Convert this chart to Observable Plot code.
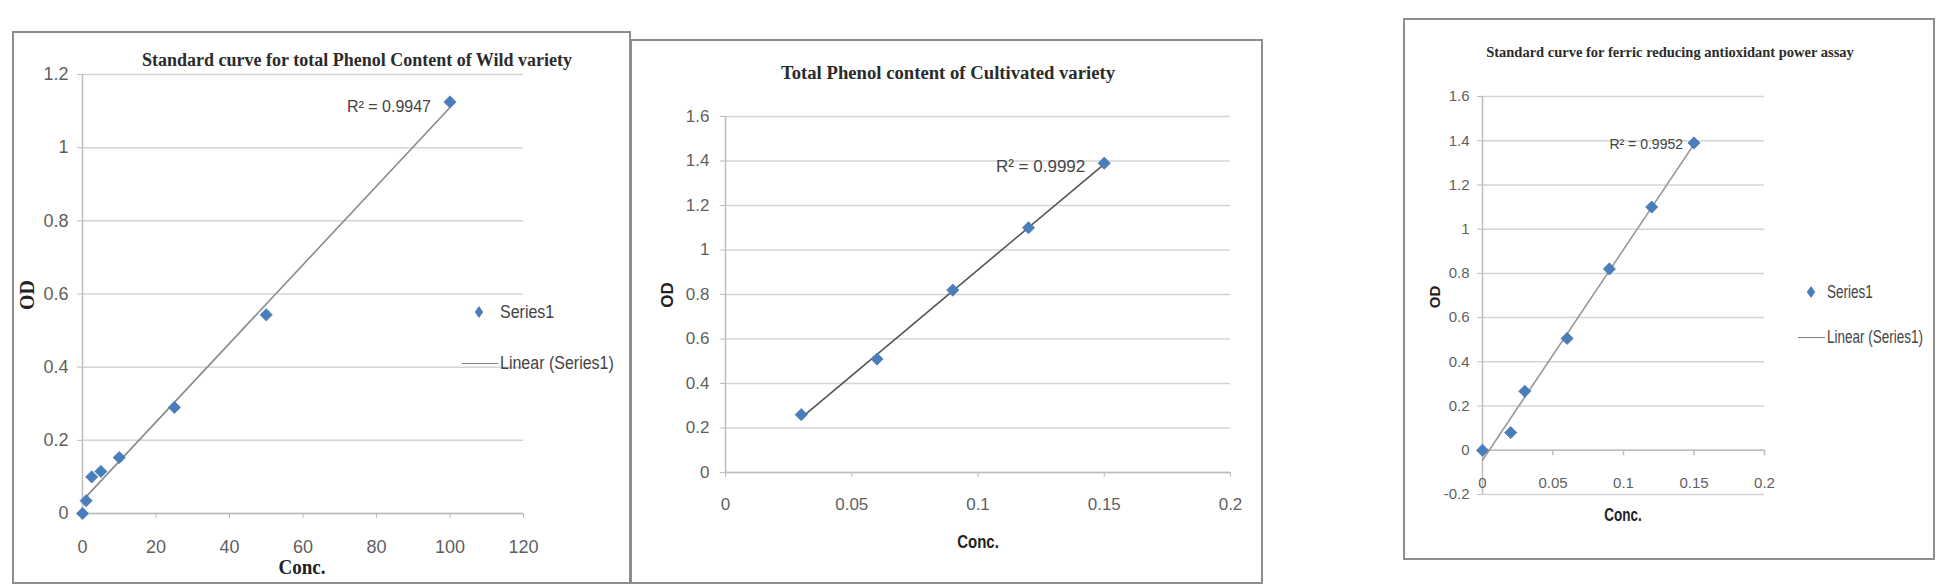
<!DOCTYPE html>
<html>
<head>
<meta charset="utf-8">
<script src="https://cdn.jsdelivr.net/npm/d3@7"></script>
<script src="https://cdn.jsdelivr.net/npm/@observablehq/plot@0.6"></script>
<style>
  body { margin: 0; background: #fff; }
  #root { position: relative; width: 1941px; height: 585px; overflow: hidden; background: #fff; }
  .frame { position: absolute; border: 2px solid #8e8e8e; box-sizing: border-box; }
  .plotbox { position: absolute; }
  .abs { position: absolute; white-space: nowrap; }
  .sans { font-family: "Liberation Sans", Arial, sans-serif; }
  .serif { font-family: "Liberation Serif", "Times New Roman", serif; }
  .diamond { position: absolute; width: 6px; height: 6px; background: #4a7ebb; transform: translate(-50%, -50%) scaleY(1.4) rotate(45deg); }
  .swline { position: absolute; height: 0; border-top: 1.5px solid #7f7f7f; }
</style>
</head>
<body>
<div id="root"></div>
<script>
// ---------- DATA ----------
// Panel 1: Standard curve for total Phenol Content of Wild variety
const conc1 = [0, 1, 2.5, 5, 10, 25, 50, 100];
const od1   = [0, 0.035, 0.10, 0.115, 0.153, 0.29, 0.543, 1.125];
const xTicks1 = [0, 20, 40, 60, 80, 100, 120];
const yTicks1 = [0, 0.2, 0.4, 0.6, 0.8, 1, 1.2];
const title1 = "Standard curve for total Phenol Content of Wild variety";
const r2Label1 = "R² = 0.9947";

// Panel 2: Total Phenol content of Cultivated variety
const conc2 = [0.03, 0.06, 0.09, 0.12, 0.15];
const od2   = [0.26, 0.51, 0.82, 1.10, 1.39];
const xTicks2 = [0, 0.05, 0.1, 0.15, 0.2];
const yTicks2 = [0, 0.2, 0.4, 0.6, 0.8, 1, 1.2, 1.4, 1.6];
const title2 = "Total Phenol content of Cultivated variety";
const r2Label2 = "R² = 0.9992";

// Panel 3: Standard curve for ferric reducing antioxidant power assay
const conc3 = [0, 0.02, 0.03, 0.06, 0.09, 0.12, 0.15];
const od3   = [0, 0.08, 0.267, 0.506, 0.82, 1.10, 1.39];
const xTicks3 = [0, 0.05, 0.1, 0.15, 0.2];
const yTicks3 = [-0.2, 0, 0.2, 0.4, 0.6, 0.8, 1, 1.2, 1.4, 1.6];
const title3 = "Standard curve for ferric reducing antioxidant power assay";
const r2Label3 = "R² = 0.9952";

const xLabel = "Conc.";
const yLabel = "OD";
const seriesName = "Series1";
const trendName = "Linear (Series1)";

// ---------- STYLE ----------
const BLUE = "#4a7ebb";
const GRID = "#d4d4d4";
const AXIS = "#bdbdbd";
const TICKTXT = "#5f5f5f";
const SANS = '"Liberation Sans", Arial, sans-serif';
const root = document.getElementById("root");

function el(cls, css, text) {
  const d = document.createElement("div");
  d.className = cls;
  Object.assign(d.style, css);
  if (text != null) d.textContent = text;
  root.appendChild(d);
  return d;
}

function panel(cfg) {
  const data = cfg.x.map((x, i) => ({x, y: cfg.y[i]}));
  const last = [data[data.length - 1]];
  const marks = [
    Plot.gridY(cfg.yTicks, {stroke: GRID, strokeOpacity: 1, strokeWidth: 1.5}),
    Plot.ruleX([cfg.xDomain[0]], {stroke: AXIS, strokeWidth: 1.5}),
    Plot.ruleY([0], {stroke: AXIS, strokeWidth: 1.5}),
    Plot.axisY(cfg.yTicks, {
      tickSize: 5, tickPadding: cfg.yPad, stroke: AXIS, fill: TICKTXT,
      fontSize: cfg.tickSize, fontFamily: SANS, label: null, tickFormat: d => String(d)
    })
  ];
  if (cfg.axisAtZero) {
    marks.push(Plot.ruleX(cfg.xTicks, {x: d => d, y1: 0, y2: cfg.tickLen, stroke: AXIS, strokeWidth: 1.5}));
    marks.push(Plot.text(cfg.xTicks, {
      x: d => d, y: () => 0, text: d => String(d), lineAnchor: "top", dy: cfg.xPad,
      fill: TICKTXT, fontSize: cfg.tickSize, fontFamily: SANS
    }));
  } else {
    marks.push(Plot.axisX(cfg.xTicks, {
      tickSize: 5, tickPadding: cfg.xPad, stroke: AXIS, fill: TICKTXT,
      fontSize: cfg.tickSize, fontFamily: SANS, label: null, tickFormat: d => String(d)
    }));
  }
  marks.push(
    Plot.linearRegressionY(data, {x: "x", y: "y", stroke: cfg.trend, strokeWidth: 1.6, ci: 0}),
    Plot.dot(data, {x: "x", y: "y", symbol: "diamond2", r: 5.5, fill: BLUE, stroke: BLUE, strokeWidth: 0.8}),
    Plot.text(last, {
      x: "x", y: "y", text: () => cfg.r2, textAnchor: "end", dx: cfg.r2dx, dy: cfg.r2dy,
      fill: "#444", fontSize: cfg.r2Size, fontFamily: SANS
    })
  );
  const chart = Plot.plot({
    width: cfg.frame.width, height: cfg.frame.height,
    marginLeft: cfg.m[0], marginRight: cfg.m[1], marginTop: cfg.m[2], marginBottom: cfg.m[3],
    x: {domain: cfg.xDomain, axis: null},
    y: {domain: cfg.yDomain, axis: null},
    style: {background: "transparent", overflow: "visible"},
    marks
  });
  const box = el("plotbox", {left: cfg.frame.left + "px", top: cfg.frame.top + "px"});
  box.appendChild(chart);
  el("frame", {
    left: (cfg.frame.left - 1) + "px", top: (cfg.frame.top - 1) + "px",
    width: (cfg.frame.width + 2) + "px", height: (cfg.frame.height + 2) + "px"
  });
  const sy = cfg.stretch;
  // title
  el("abs serif", {left: cfg.title.x + "px", top: cfg.title.y + "px", fontWeight: "bold",
    fontSize: cfg.title.size + "px", color: "#2b2b2b", transform: "translate(-50%, -50%)"}, cfg.title.text);
  // axis labels
  el("abs " + cfg.lab.cls, {left: cfg.lab.cx + "px", top: cfg.lab.cy + "px", fontWeight: "bold",
    fontSize: cfg.lab.size + "px", color: "#222", transform: `translate(-50%, -50%) scaleY(${sy})`}, xLabel);
  el("abs " + cfg.lab.cls, {left: cfg.lab.ox + "px", top: cfg.lab.oy + "px", fontWeight: "bold",
    fontSize: cfg.lab.osize + "px", color: "#222", transform: "translate(-50%, -50%) rotate(-90deg)"}, yLabel);
  // legend
  if (cfg.legend) {
    const L = cfg.legend;
    el("diamond", {left: L.dx + "px", top: L.dy + "px"});
    el("abs sans", {left: L.tx + "px", top: L.dy + "px", fontSize: L.size + "px", color: "#444",
      transform: `translate(0, -50%) scaleY(${sy})`}, seriesName);
    el("swline", {left: L.lx1 + "px", top: L.ly + "px", width: (L.lx2 - L.lx1) + "px"});
    el("abs sans", {left: L.tx + "px", top: L.ly + "px", fontSize: L.size + "px", color: "#444",
      transform: `translate(0, -50%) scaleY(${sy})`}, trendName);
  }
}

panel({
  x: conc1, y: od1, xTicks: xTicks1, yTicks: yTicks1,
  xDomain: [0, 120], yDomain: [0, 1.2],
  frame: {left: 13, top: 32, width: 617, height: 551},
  m: [69, 107, 42, 70], xPad: 22, yPad: 9, tickSize: 18, stretch: 1.1,
  trend: "#8a8a8a", r2: r2Label1, r2dx: -19, r2dy: 5, r2Size: 16,
  title: {text: title1, x: 357, y: 60, size: 18},
  lab: {cls: "serif", size: 19, osize: 20, cx: 302, cy: 567, ox: 27, oy: 295},
  legend: {dx: 479, dy: 312, tx: 500, lx1: 462, lx2: 498, ly: 363, size: 16}
});

panel({
  x: conc2, y: od2, xTicks: xTicks2, yTicks: yTicks2,
  xDomain: [0, 0.2], yDomain: [0, 1.6],
  frame: {left: 631, top: 40, width: 631, height: 543},
  m: [94, 32, 76, 111], xPad: 20, yPad: 11, tickSize: 17, stretch: 1.25,
  trend: "#555555", r2: r2Label2, r2dx: -19, r2dy: 3, r2Size: 17,
  title: {text: title2, x: 948, y: 73, size: 18.7},
  lab: {cls: "sans", size: 15, osize: 17, cx: 978, cy: 541, ox: 668, oy: 295},
  legend: null
});

panel({
  x: conc3, y: od3, xTicks: xTicks3, yTicks: yTicks3,
  xDomain: [0, 0.2], yDomain: [-0.2, 1.6],
  frame: {left: 1404, top: 19, width: 530, height: 540},
  m: [78, 170, 77, 65], xPad: 27, yPad: 8, tickSize: 15, axisAtZero: true, tickLen: -0.025, stretch: 1.35,
  trend: "#9a9a9a", r2: r2Label3, r2dx: -11, r2dy: 2, r2Size: 14,
  title: {text: title3, x: 1670, y: 52, size: 14.5},
  lab: {cls: "sans", size: 13.5, osize: 15, cx: 1623, cy: 515, ox: 1434, oy: 297},
  legend: {dx: 1811, dy: 292, tx: 1827, lx1: 1798, lx2: 1825, ly: 337, size: 13.5}
});
</script>
</body>
</html>
